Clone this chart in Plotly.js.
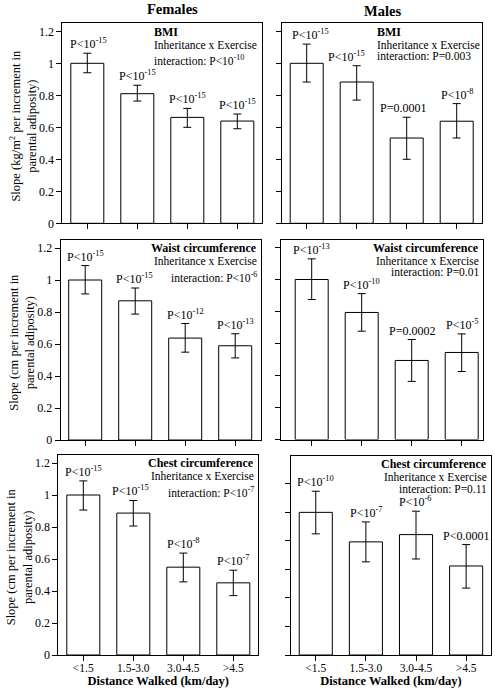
<!DOCTYPE html>
<html>
<head>
<meta charset="utf-8">
<script src="https://cdn.plot.ly/plotly-3.0.1.min.js"></script>
<style>html,body{margin:0;padding:0;background:#fff;}#chart{width:495px;height:695px;}</style>
</head>
<body>
<div id="chart"></div>
<script>
// ---- Data ----
const categories = ['<1.5', '1.5-3.0', '3.0-4.5', '>4.5'];
const tickLabels = ['&lt;1.5', '1.5-3.0', '3.0-4.5', '&gt;4.5'];

// Females
const femBmi     = [1.0, 0.81, 0.662, 0.639];
const femBmiHi   = [0.063, 0.053, 0.056, 0.044];
const femBmiLo   = [0.059, 0.046, 0.062, 0.048];
const femBmiP    = ['P&lt;10<sup>-15</sup>', 'P&lt;10<sup>-15</sup>', 'P&lt;10<sup>-15</sup>', 'P&lt;10<sup>-15</sup>'];

const femWaist   = [1.0, 0.87, 0.637, 0.589];
const femWaistHi = [0.09, 0.08, 0.091, 0.075];
const femWaistLo = [0.087, 0.083, 0.088, 0.076];
const femWaistP  = ['P&lt;10<sup>-15</sup>', 'P&lt;10<sup>-15</sup>', 'P&lt;10<sup>-12</sup>', 'P&lt;10<sup>-13</sup>'];

const femChest   = [1.0, 0.887, 0.549, 0.451];
const femChestHi = [0.088, 0.079, 0.088, 0.079];
const femChestLo = [0.094, 0.081, 0.092, 0.08];
const femChestP  = ['P&lt;10<sup>-15</sup>', 'P&lt;10<sup>-15</sup>', 'P&lt;10<sup>-8</sup>', 'P&lt;10<sup>-7</sup>'];

// Males
const maleBmi     = [1.0, 0.883, 0.533, 0.638];
const maleBmiHi   = [0.12, 0.102, 0.13, 0.11];
const maleBmiLo   = [0.117, 0.113, 0.133, 0.105];
const maleBmiP    = ['P&lt;10<sup>-15</sup>', 'P&lt;10<sup>-15</sup>', 'P=0.0001', 'P&lt;10<sup>-8</sup>'];

const maleWaist   = [1.0, 0.794, 0.494, 0.544];
const maleWaistHi = [0.129, 0.118, 0.131, 0.116];
const maleWaistLo = [0.125, 0.117, 0.131, 0.119];
const maleWaistP  = ['P&lt;10<sup>-13</sup>', 'P&lt;10<sup>-10</sup>', 'P=0.0002', 'P&lt;10<sup>-5</sup>'];

const maleChest   = [1.0, 0.793, 0.844, 0.624];
const maleChestHi = [0.148, 0.14, 0.164, 0.15];
const maleChestLo = [0.151, 0.14, 0.171, 0.155];
const maleChestP  = ['P&lt;10<sup>-10</sup>', 'P&lt;10<sup>-7</sup>', 'P&lt;10<sup>-6</sup>', 'P&lt;0.0001'];

const measures = ['BMI', 'Waist circumference', 'Chest circumference'];
const interactionP = ['P&lt;10<sup>-10</sup>', 'P=0.003', 'P&lt;10<sup>-6</sup>', 'P=0.01', 'P&lt;10<sup>-7</sup>', 'P=0.11'];
const yTitles = [
  'Slope (kg/m<sup>2</sup> per increment in<br>parental adiposity)',
  'Slope (cm per increment in<br>parental adiposity)',
  'Slope (cm per increment in<br>parental adiposity)'
];
const colTitles = ['Females', 'Males'];
const xTitle = 'Distance Walked (km/day)';

// ---- Layout ----
const W = 495, H = 695;
const FONT = 'Liberation Serif';
const fx = v => v / W;
const fy = v => 1 - v / H;

const panels = [
  {v: femBmi,    hi: femBmiHi,    lo: femBmiLo,    p: femBmiP,    box: [62.3, 262.3, 23.3, 223.3], xr: [-0.5, 3.5],  yr: [0, 1.25], left: true,  m: 0, corner: 'left',  cx: 152, sh: [1, 0, 0, 0]},
  {v: maleBmi,   hi: maleBmiHi,   lo: maleBmiLo,   p: maleBmiP,   box: [281.7, 481.7, 23.3, 223.3], xr: [-0.5, 3.5], yr: [0, 1.25], left: false, m: 0, corner: 'left',  cx: 375, sh: [4, -10, -4, 0]},
  {v: femWaist,  hi: femWaistHi,  lo: femWaistLo,  p: femWaistP,  box: [60.7, 260.7, 240, 440],   xr: [-0.49, 3.51], yr: [0, 1.25], left: true,  m: 1, corner: 'right', sh: [0, -1, 0, 0]},
  {v: maleWaist, hi: maleWaistHi, lo: maleWaistLo, p: maleWaistP, box: [281.2, 482.7, 239.5, 439.5], xr: [-0.61, 3.42], yr: [0, 1.25], left: false, m: 1, corner: 'right', sh: [0, 0, 0, 0]},
  {v: femChest,  hi: femChestHi,  lo: femChestLo,  p: femChestP,  box: [58.3, 258.3, 455, 655],   xr: [-0.5, 3.5],  yr: [0, 1.25], left: true,  m: 2, corner: 'right', sh: [0, -3, 0, 0]},
  {v: maleChest, hi: maleChestHi, lo: maleChestLo, p: maleChestP, box: [290.7, 491.2, 456, 655],  xr: [-0.5, 3.5],  yr: [0, 1.395], left: false, m: 2, corner: 'right', sh: [0, 0, -1, 0]}
];

const traces = [];
const layout = {
  width: W, height: H,
  margin: {l: 0, r: 0, t: 0, b: 0},
  paper_bgcolor: '#fff', plot_bgcolor: '#fff',
  showlegend: false,
  font: {family: FONT, size: 12, color: '#000'},
  annotations: []
};

panels.forEach((pn, i) => {
  const n = i + 1;
  const xa = 'x' + (n === 1 ? '' : n), ya = 'y' + (n === 1 ? '' : n);
  const xk = 'xaxis' + (n === 1 ? '' : n), yk = 'yaxis' + (n === 1 ? '' : n);
  const [l, r, t, b] = pn.box;
  traces.push({
    type: 'bar', x: categories, y: pn.v, xaxis: xa, yaxis: ya, width: 0.66,
    marker: {color: '#fff', line: {color: '#000', width: 1}},
    error_y: {type: 'data', symmetric: false, array: pn.hi, arrayminus: pn.lo, color: '#000', thickness: 1, width: 4},
    hoverinfo: 'x+y'
  });
  const bottomRow = i >= 4;
  layout[xk] = {
    domain: [fx(l), fx(r)], anchor: ya, type: 'category', range: pn.xr,
    tickvals: categories, ticktext: tickLabels, showticklabels: bottomRow,
    ticks: 'outside', ticklen: 5, tickcolor: '#000', tickwidth: 1,
    ticklabelstandoff: -3,
    showline: true, mirror: true, linecolor: '#000', linewidth: 1,
    showgrid: false, zeroline: false,
    tickfont: {family: FONT, size: 11.5, color: '#000'},
    title: bottomRow ? {text: '<b>' + xTitle + '</b>', font: {family: FONT, size: 12.5, color: '#000'}, standoff: 2} : {text: ''}
  };
  layout[yk] = {
    domain: [fy(b), fy(t)], anchor: xa, range: pn.yr, dtick: 0.2, tick0: 0,
    showticklabels: pn.left,
    ticks: 'outside', ticklen: 5, tickcolor: '#000', tickwidth: 1,
    showline: true, mirror: true, linecolor: '#000', linewidth: 1,
    showgrid: false, zeroline: false,
    tickfont: {family: FONT, size: 12, color: '#000'},
    title: {text: ''}
  };
  // y-axis title (rotated annotation, two lines)
  if (pn.left) {
    layout.annotations.push({
      xref: 'paper', yref: 'paper', x: fx(l - 39), y: fy((t + b) / 2 + 2),
      xanchor: 'center', yanchor: 'middle', textangle: -90, showarrow: false,
      text: yTitles[pn.m], font: {family: FONT, size: 12.5, color: '#000'}
    });
  }
  // p-value labels above error bars
  pn.v.forEach((val, k) => {
    layout.annotations.push({
      xref: xa, yref: ya, x: categories[k], y: val + pn.hi[k],
      text: pn.p[k], showarrow: false, yanchor: 'bottom', yshift: 0, xshift: pn.sh[k],
      font: {family: FONT, size: 12, color: '#000'}
    });
  });
  // corner annotation, one line at a time
  const hasSup = interactionP[i].indexOf('<sup>') >= 0;
  const lines = [
    {text: '<b>' + measures[pn.m] + '</b>', dy: 8.4, size: 12},
    {text: 'Inheritance x Exercise', dy: 21.3, size: 11.5},
    {text: 'interaction: ' + interactionP[i], dy: hasSup ? 37 : 32.5, size: 11.5}
  ];
  const isLeft = pn.corner === 'left';
  lines.forEach(ln => {
    layout.annotations.push({
      xref: 'paper', yref: 'paper',
      x: isLeft ? fx(pn.cx) : fx(r - 2), y: fy(t + ln.dy),
      xanchor: isLeft ? 'left' : 'right', yanchor: 'middle', align: isLeft ? 'left' : 'right',
      text: ln.text, showarrow: false,
      font: {family: FONT, size: ln.size, color: '#000'}
    });
  });
});

// column titles
layout.annotations.push({xref: 'paper', yref: 'paper', x: fx(172.5), y: fy(9), xanchor: 'center', yanchor: 'middle',
  text: '<b>' + colTitles[0] + '</b>', showarrow: false, font: {family: FONT, size: 14.5, color: '#000'}});
layout.annotations.push({xref: 'paper', yref: 'paper', x: fx(382.5), y: fy(11), xanchor: 'center', yanchor: 'middle',
  text: '<b>' + colTitles[1] + '</b>', showarrow: false, font: {family: FONT, size: 14.5, color: '#000'}});

Plotly.newPlot('chart', traces, layout, {displayModeBar: false, staticPlot: true});
</script>
</body>
</html>
